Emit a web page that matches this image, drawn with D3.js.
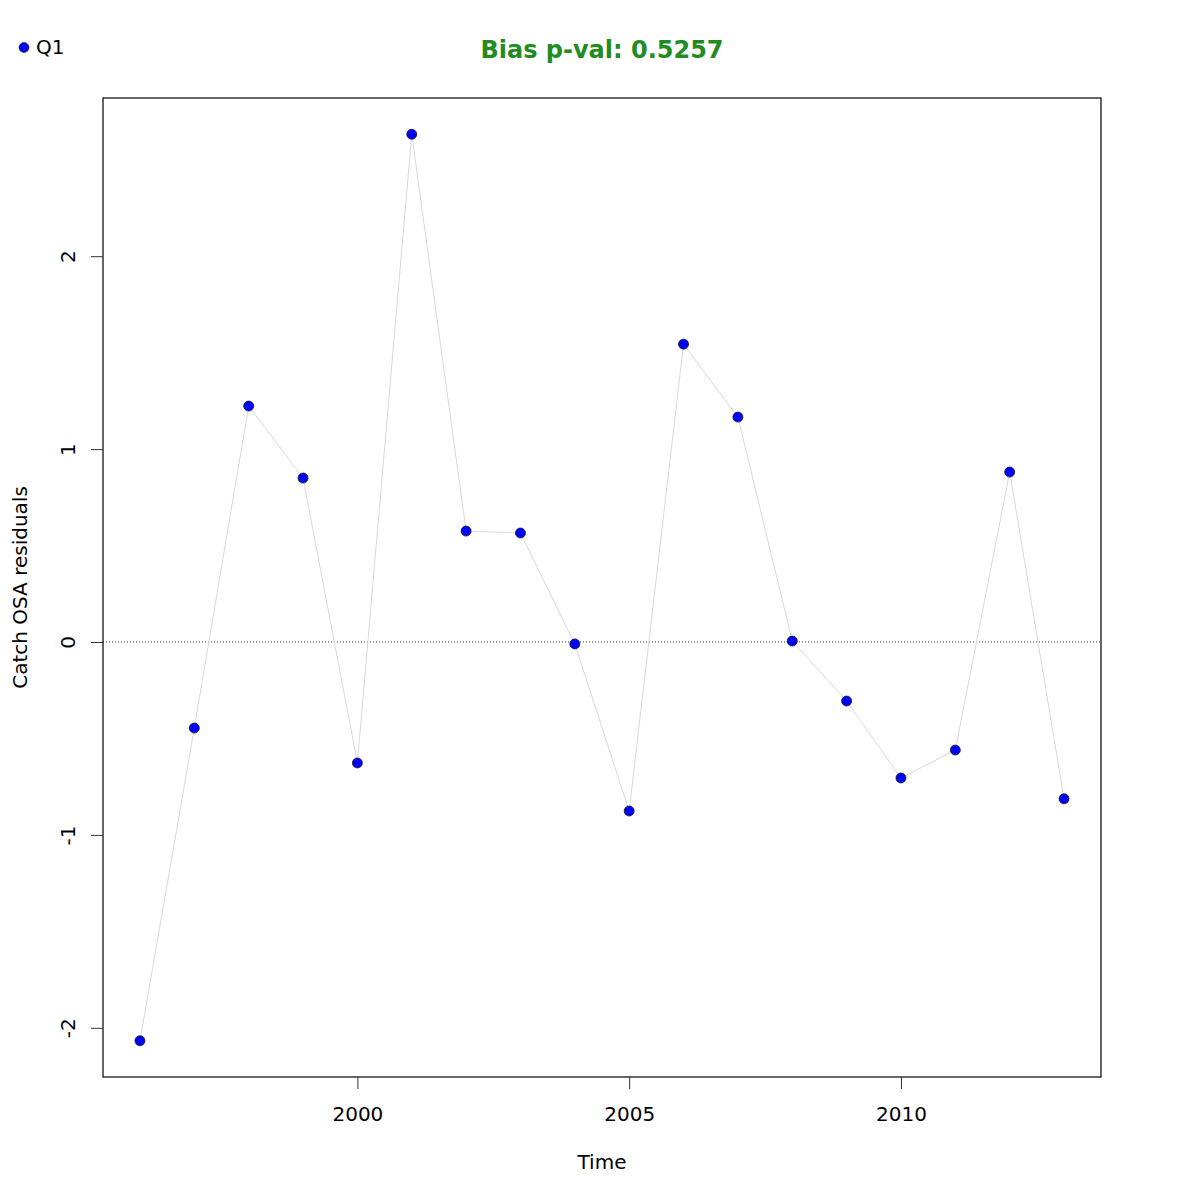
<!DOCTYPE html>
<html><head><meta charset="utf-8">
<script src="https://cdn.jsdelivr.net/npm/d3@7/dist/d3.min.js"></script>
<style>body{margin:0;background:#fff}</style>
</head><body>
<script>
const years = [1996,1997,1998,1999,2000,2001,2002,2003,2004,2005,2006,2007,2008,2009,2010,2011,2012,2013];
const residuals = [-2.067,-0.446,1.223,0.850,-0.627,2.632,0.575,0.565,-0.010,-0.876,1.544,1.166,0.005,-0.306,-0.705,-0.560,0.881,-0.813];
const xTicks = [2000,2005,2010];
const yTicks = [-2,-1,0,1,2];
const title = "Bias p-val: 0.5257";
const legendLabel = "Q1";

const W=1200,H=1200;
const L=103,R=1101,T=98,B=1077;
const font="DejaVu Sans, sans-serif";
const svg=d3.select("body").append("svg").attr("width",W).attr("height",H);
svg.append("rect").attr("width",W).attr("height",H).attr("fill","#fff");

const xr=d3.extent(years), yr=d3.extent(residuals);
const xe=(xr[1]-xr[0])*0.04, ye=(yr[1]-yr[0])*0.04;
const x=d3.scaleLinear().domain([xr[0]-xe,xr[1]+xe]).range([L,R]);
const y=d3.scaleLinear().domain([yr[0]-ye,yr[1]+ye]).range([B,T]);

// zero line
svg.append("line").attr("x1",L).attr("x2",R).attr("y1",y(0)).attr("y2",y(0))
  .attr("stroke","#333").attr("stroke-width",1).attr("stroke-dasharray","1,2");

// connecting line
svg.append("path").datum(years.map((d,i)=>[d,residuals[i]]))
  .attr("fill","none").attr("stroke","#d9d9d9").attr("stroke-width",1)
  .attr("d",d3.line().x(d=>x(d[0])).y(d=>y(d[1])));

// points
svg.selectAll("circle.pt").data(years).enter().append("circle")
  .attr("cx",(d)=>x(d)).attr("cy",(d,i)=>y(residuals[i])).attr("r",5)
  .attr("fill","#0000ff").attr("stroke","#1a1a1a").attr("stroke-width",0.8);

// box
svg.append("rect").attr("x",L).attr("y",T).attr("width",R-L).attr("height",B-T)
  .attr("fill","none").attr("stroke","#000").attr("stroke-width",1.2);

const fmt = d => String(d);

// x axis
const xa=svg.append("g").attr("transform",`translate(0,${B})`)
  .call(d3.axisBottom(x).tickValues(xTicks).tickSize(12).tickPadding(18).tickFormat(fmt));
xa.select(".domain").remove();
xa.selectAll("text").attr("font-family",font).attr("font-size",20).attr("fill","#000");
xa.selectAll("line").attr("stroke","#333");

// y axis
const ya=svg.append("g").attr("transform",`translate(${L},0)`)
  .call(d3.axisLeft(y).tickValues(yTicks).tickSize(12).tickFormat(fmt));
ya.select(".domain").remove();
ya.selectAll("line").attr("stroke","#333");
ya.selectAll("text").attr("font-family",font).attr("font-size",20).attr("fill","#000")
  .attr("x",0).attr("dy",null).attr("text-anchor","middle")
  .attr("transform","translate(-35,0) rotate(-90)").attr("dominant-baseline","central");

// labels
svg.append("text").attr("x",(L+R)/2).attr("y",1169).attr("text-anchor","middle")
  .attr("font-family",font).attr("font-size",20).text("Time");
svg.append("text").attr("transform",`translate(27,${(T+B)/2}) rotate(-90)`).attr("text-anchor","middle")
  .attr("font-family",font).attr("font-size",20).text("Catch OSA residuals");
svg.append("text").attr("x",(L+R)/2).attr("y",58).attr("text-anchor","middle")
  .attr("font-family",font).attr("font-size",24).attr("font-weight","bold").attr("fill","#228B22").text(title);

// legend
svg.append("circle").attr("cx",24).attr("cy",47.5).attr("r",5).attr("fill","#0000ff").attr("stroke","#1a1a1a").attr("stroke-width",0.6);
svg.append("text").attr("x",36).attr("y",54).attr("font-family",font).attr("font-size",20).text(legendLabel);
</script>
</body></html>
